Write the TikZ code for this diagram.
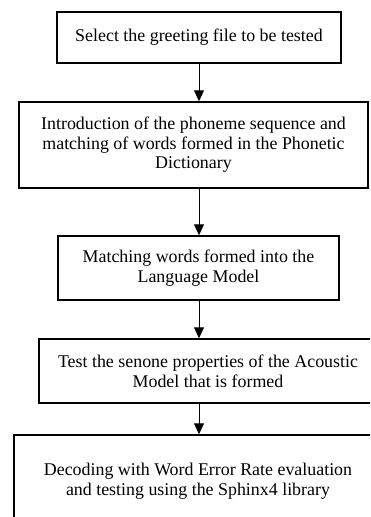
\documentclass[tikz,border=0pt]{standalone}
\usepackage{fontspec}
\setmainfont{Liberation Serif}
\usetikzlibrary{arrows.meta}

\begin{document}
\begin{tikzpicture}[x=1pt,y=1pt,
    stepbox/.style={draw,line width=1.5pt,align=center,inner sep=0pt,
        font=\fontsize{17.9}{19.6}\selectfont},
    flow/.style={line width=1pt,-{Triangle[length=11pt,width=10pt]}}]
    \useasboundingbox (0,0) rectangle (370,-517);
    \clip (0,0) rectangle (370,-517);

    \node[stepbox,minimum width=284pt,minimum height=51pt] (select) at (199,-37.5)
        {Select the greeting file to be tested};
    \node[stepbox,minimum width=349pt,minimum height=86pt] (phoneme) at (193.5,-145)
        {Introduction of the phoneme sequence and\\matching of words formed in the Phonetic\\Dictionary};
    \node[stepbox,minimum width=281pt,minimum height=64pt] (langmodel) at (198.5,-268)
        {Matching words formed into the\\Language Model};
    \node[stepbox,minimum width=338pt,minimum height=64pt] (acoustic) at (208,-371)
        {Test the senone properties of the Acoustic\\Model that is formed};
    \node[stepbox,minimum width=368pt,minimum height=92pt] (decoding) at (198,-481)
        {Decoding with Word Error Rate evaluation\\and testing using the Sphinx4 library};

    \draw[flow] (select.south) -- (select.south |- phoneme.north);
    \draw[flow] (select.south |- phoneme.south) -- (select.south |- langmodel.north);
    \draw[flow] (select.south |- langmodel.south) -- (select.south |- acoustic.north);
    \draw[flow] (select.south |- acoustic.south) -- (select.south |- decoding.north);
\end{tikzpicture}
\end{document}
